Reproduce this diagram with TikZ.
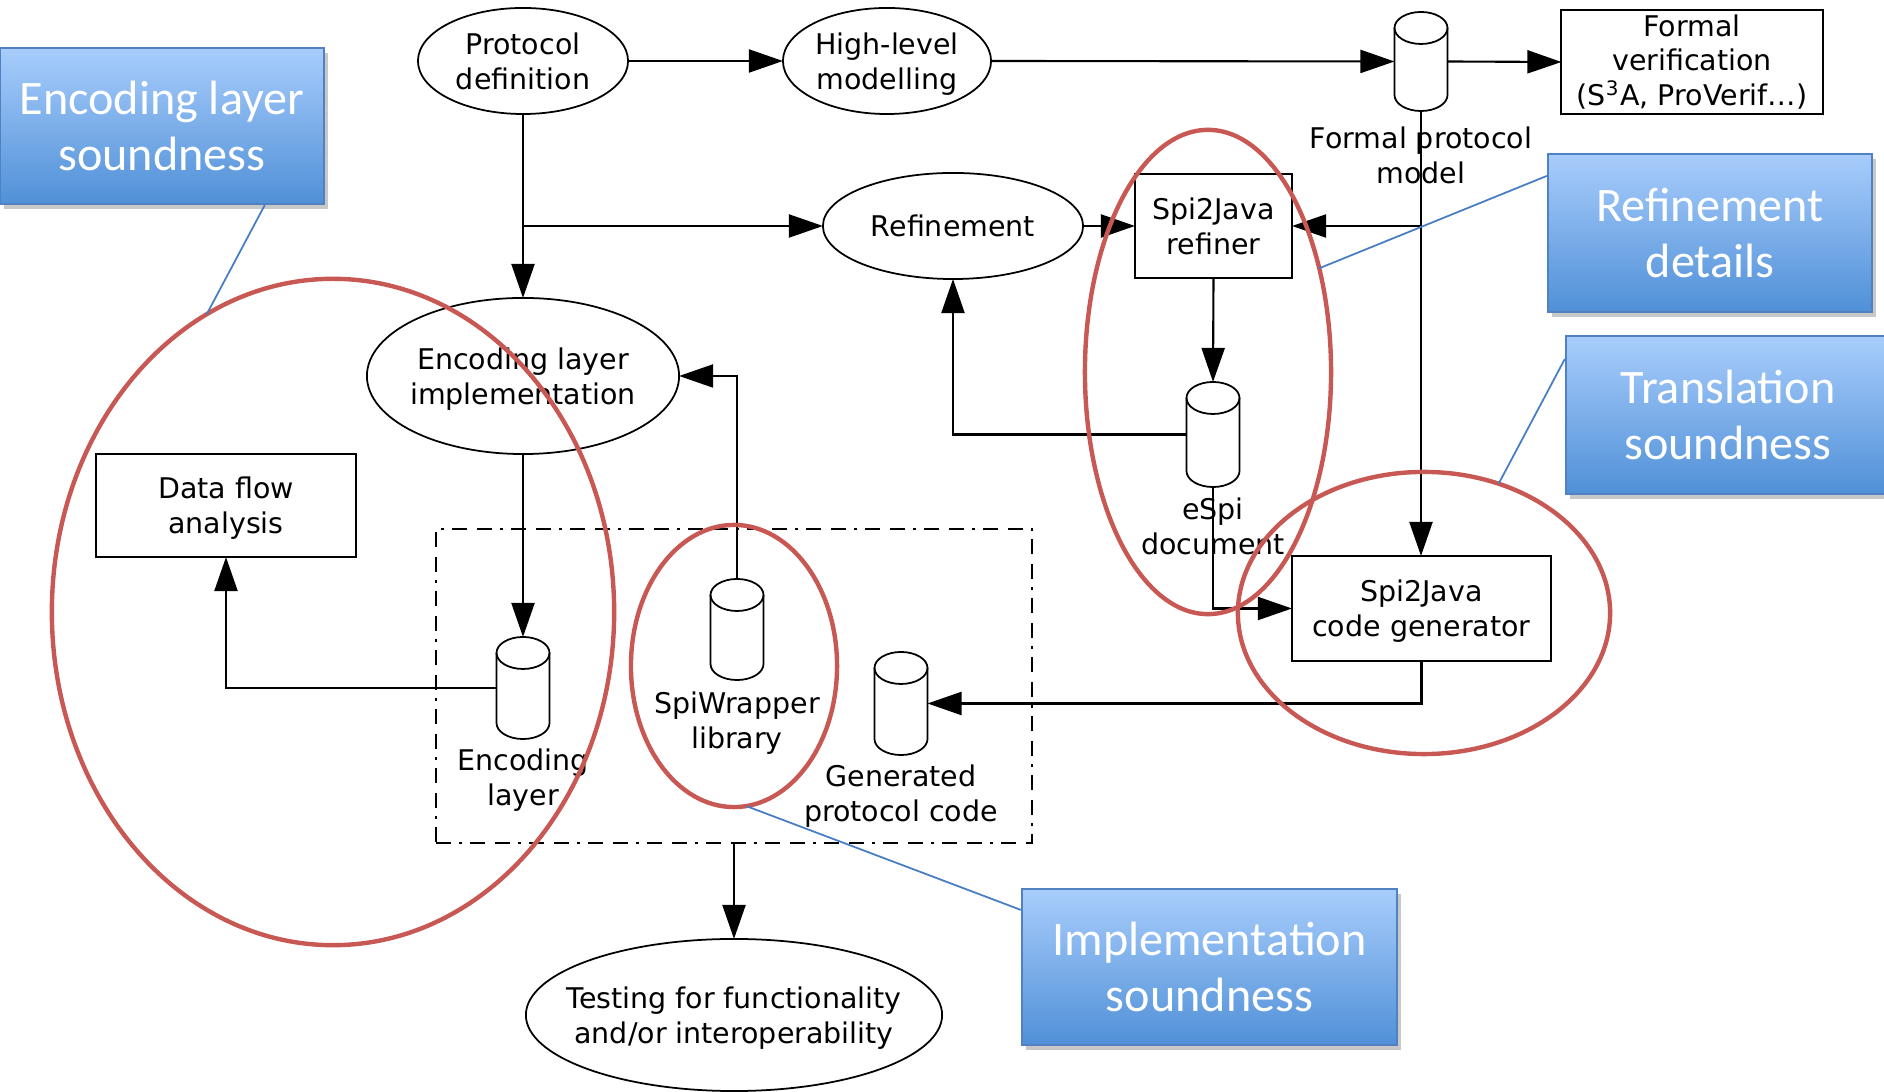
\documentclass[tikz,border=0pt]{standalone}
\usepackage{fontspec}
\setmainfont{DejaVu Sans}
\newfontfamily\calloutfont{Carlito}
\usetikzlibrary{shapes.geometric, arrows.meta, calc, shadows}

\definecolor{ringred}{RGB}{200,88,83}
\definecolor{calltop}{RGB}{168,205,252}
\definecolor{callbottom}{RGB}{80,144,215}
\definecolor{calledge}{RGB}{80,130,195}
\definecolor{pointerblue}{RGB}{70,125,195}

\newcommand\diagfont{\fontsize{8.1}{9.9}\selectfont}
% centred lines that do not widen the surrounding shape
\newcommand\ctext[1]{\makebox[0pt]{\raisebox{-1.1pt}[\height][\depth]{\begin{tabular}{@{}c@{}}#1\end{tabular}}}}
% centred lines set a little lower inside a box
\newcommand\ltext[1]{\raisebox{-1pt}[\height][\depth]{\begin{tabular}{@{}c@{}}#1\end{tabular}}}

% outline of a data store (vertical cylinder) around an invisible node
\newcommand\storeoutline[1]{%
  \draw[line width=0.5pt] ([yshift=-0.16cm]#1.north) ellipse [x radius=0.265cm, y radius=0.16cm];
  \draw[line width=0.5pt] ([yshift=-0.16cm]#1.north west) -- ([yshift=0.16cm]#1.south west)
    arc [start angle=180, end angle=360, x radius=0.265cm, y radius=0.16cm]
    -- ([yshift=-0.16cm]#1.north east);
}

\tikzset{
  proc/.style={ellipse, draw, line width=0.5pt, inner sep=0pt, outer sep=0pt, align=center, font=\diagfont},
  box/.style={rectangle, draw, line width=0.6pt, inner sep=0pt, outer sep=0pt, align=center, font=\diagfont},
  store/.style={rectangle, inner sep=0pt, outer sep=0pt, minimum width=0.53cm},
  storelabel/.style={align=center, font=\diagfont, inner sep=0pt},
  flow/.style={-{Triangle[length=0.34cm, width=0.23cm]}, line width=0.6pt},
  tray/.style={rectangle, draw, line width=0.6pt, inner sep=0pt,
    dash pattern=on 0.15cm off 0.08cm on 0.03cm off 0.08cm on 0.15cm off 0.1cm},
  ring/.style={ellipse, draw=ringred, line width=1.25pt, inner sep=0pt, outer sep=0pt},
  callout/.style={rectangle, draw=calledge, line width=0.6pt, top color=calltop,
    bottom color=callbottom, text=white, align=center, inner sep=0pt,
    font=\calloutfont\fontsize{13.7}{16}\selectfont,
    drop shadow={shadow xshift=0.04cm, shadow yshift=-0.05cm, opacity=0.3, fill=black!70}},
  pointer/.style={draw=pointerblue, line width=0.5pt},
}

\begin{document}
\begin{tikzpicture}[x=0.01cm, y=-0.01cm]
\useasboundingbox (0,0) rectangle (1884,1092);
\fill[white] (0,0) rectangle (1884,1092);

% processes and tools
\node[proc, minimum width=2.10cm, minimum height=1.06cm] (pd) at (523,61) {\ctext{Protocol\\definition}};
\node[proc, minimum width=2.08cm, minimum height=1.06cm] (hl) at (887,61) {\ctext{High-level\\modelling}};
\node[box, minimum width=2.61cm, minimum height=1.04cm] (fv) at (1692,62)
  {Formal\\verification\\(S\textsuperscript{3}A, ProVerif\ldots)};
\node[proc, minimum width=2.60cm, minimum height=1.06cm] (ref) at (953,226) {\ctext{Refinement}};
\node[box, minimum width=1.57cm, minimum height=1.04cm] (sjr) at (1213.5,226) {Spi2Java\\refiner};
\node[box, minimum width=2.59cm, minimum height=1.05cm] (cg) at (1421.5,608.5) {\ltext{Spi2Java\\code generator}};
\node[proc, minimum width=3.12cm, minimum height=1.56cm] (eli) at (523,376) {\ctext{Encoding layer\\implementation}};
\node[box, minimum width=2.60cm, minimum height=1.03cm] (dfa) at (226,505.5) {\ltext{Data flow\\analysis}};
\node[proc, minimum width=4.16cm, minimum height=1.52cm] (test) at (734,1015)
  {\ctext{Testing for functionality\\and/or interoperability}};

% implementation group
\node[tray, minimum width=5.96cm, minimum height=3.14cm] (grp) at (734,686) {};

% data stores
\node[store, minimum height=0.99cm] (fpm) at (1421,61.5) {};
\storeoutline{fpm}
\node[storelabel] (fpmlab) at (1421,155) {Formal protocol\\model};

\node[store, minimum height=1.05cm] (esp) at (1213,434.5) {};
\storeoutline{esp}
\node[storelabel] (esplab) at (1213,526) {eSpi\\document};

\node[store, minimum height=1.02cm] (el) at (523,688) {};
\storeoutline{el}
\node[storelabel] (ellab) at (523,780) {Encoding\\layer};

\node[store, minimum height=1.01cm] (sw) at (737,629.5) {};
\storeoutline{sw}
\node[storelabel] (swlab) at (737,723) {SpiWrapper\\library};

\node[store, minimum height=1.03cm] (gpc) at (901,703.5) {};
\storeoutline{gpc}
\node[storelabel] (gpclab) at (901,796) {Generated\\protocol code};

% flows
\draw[flow] (pd.east) -- (hl.west);
\draw[flow] (hl.east) -- (fpm.west);
\draw[flow] (fpm.east) -- (fv.west);
\draw[flow] (pd.south) -- (eli.north);
\draw[flow] (pd.south |- ref.west) -- (ref.west);
\draw[flow] (ref.east) -- (sjr.west);
\draw[flow] (fpm.south) -- (fpm.south |- cg.north);
\draw[flow] (fpm.south |- sjr.east) -- (sjr.east);
\draw[flow] (sjr.south) -- (esp.north);
\draw[flow] (esp.west) -| (ref.south);
\draw[flow] (esp.south) |- (cg.west);
\draw[flow] (cg.south) |- (gpc.east);
\draw[flow] (eli.south) -- (el.north);
\draw[flow] (el.west) -| (dfa.south);
\draw[flow] (sw.north) |- (eli.east);
\draw[flow] (grp.south) -- (test.north);

% highlighted regions
\node[ring, minimum width=5.62cm, minimum height=6.66cm] (r1) at (333,612) {};
\node[ring, minimum width=2.46cm, minimum height=4.84cm] (r2) at (1208,372) {};
\node[ring, minimum width=3.72cm, minimum height=2.82cm] (r3) at (1424,613) {};
\node[ring, minimum width=2.06cm, minimum height=2.82cm] (r4) at (734,666) {};

% callouts
\node[callout, minimum width=3.24cm, minimum height=1.56cm] (c1) at (162,126) {Encoding layer\\soundness};
\node[callout, minimum width=3.24cm, minimum height=1.58cm] (c2) at (1710,233) {Refinement\\details};
\node[callout, minimum width=3.24cm, minimum height=1.58cm] (c3) at (1728,415) {Translation\\soundness};
\node[callout, minimum width=3.75cm, minimum height=1.56cm] (c4) at (1209.5,967) {Implementation\\soundness};

\draw[pointer] ($(c1.south west)!0.815!(c1.south east)$) -- (r1.113);
\draw[pointer] ([yshift=-0.23cm]c2.north west) -- (r2.43);
\draw[pointer] ([yshift=-0.24cm]c3.north west) -- (r3.60);
\draw[pointer] ([yshift=-0.22cm]c4.north west) -- (r4.275);
\end{tikzpicture}
\end{document}
